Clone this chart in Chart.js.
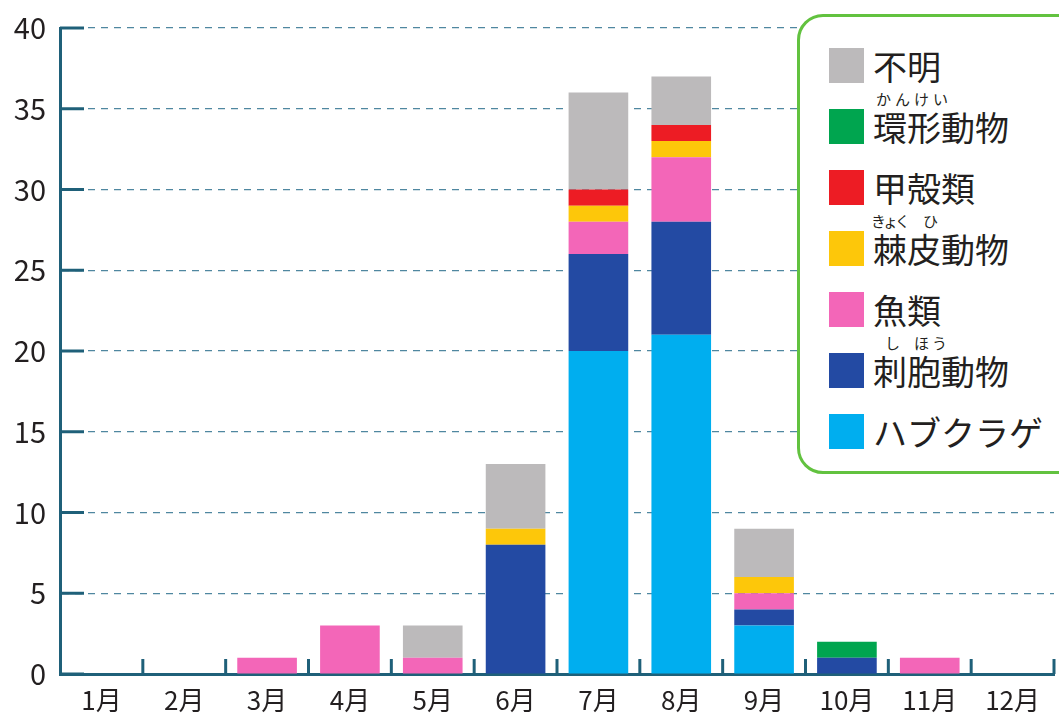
<!DOCTYPE html>
<html>
<head>
<meta charset="utf-8">
<script src="https://cdn.jsdelivr.net/npm/chart.js@4.4.1/dist/chart.umd.min.js"></script>
<style>
  body { margin: 0; background: #fff; }
  #wrap { position: relative; width: 1059px; height: 717px; overflow: hidden; font-family: "Noto Sans CJK JP", sans-serif; }
  #legend {
    position: absolute; left: 797px; top: 14px; width: 300px; height: 460px;
    border: 3px solid #62c23f; border-radius: 26px; background: #fff; box-sizing: border-box;
  }
  .row { position: absolute; left: 29px; height: 35px; display: flex; align-items: center; }
  .sw { width: 35px; height: 35px; margin-right: 9px; }
  .lab { position: relative; font-size: 34px; color: #231f20; line-height: 35px; white-space: nowrap; }
  .rb { position: absolute; top: -18px; font-size: 15px; line-height: 15px; color: #231f20; white-space: nowrap; }
</style>
</head>
<body>
<div id="wrap">
  <canvas id="chart" width="1059" height="717"></canvas>
  <div id="legend"></div>
</div>
<script>
const months = ["1月", "2月", "3月", "4月", "5月", "6月", "7月", "8月", "9月", "10月", "11月", "12月"];

const habukurage = [0, 0, 0, 0, 0, 0, 20, 21, 3, 0, 0, 0];
const shihou = [0, 0, 0, 0, 0, 8, 6, 7, 1, 1, 0, 0];
const gyorui = [0, 0, 1, 3, 1, 0, 2, 4, 1, 0, 1, 0];
const kyokuhi = [0, 0, 0, 0, 0, 1, 1, 1, 1, 0, 0, 0];
const koukaku = [0, 0, 0, 0, 0, 0, 1, 1, 0, 0, 0, 0];
const kankei = [0, 0, 0, 0, 0, 0, 0, 0, 0, 1, 0, 0];
const fumei = [0, 0, 0, 0, 2, 4, 6, 3, 3, 0, 0, 0];

const yTicks = [0, 5, 10, 15, 20, 25, 30, 35, 40];

const axisColor = "#1f6079";

// bottom to top; ruby = [reading, left offset, letter spacing]
const series = [
  { label: "ハブクラゲ", data: habukurage, color: "#00aeef" },
  { label: "刺胞動物", data: shihou, color: "#234aa3", ruby: [["し", 12, 0], ["ほう", 41, 3]] },
  { label: "魚類", data: gyorui, color: "#f366b8" },
  { label: "棘皮動物", data: kyokuhi, color: "#fdc70a", ruby: [["きょく", -2, -3], ["ひ", 50, 0]] },
  { label: "甲殻類", data: koukaku, color: "#ed1c24" },
  { label: "環形動物", data: kankei, color: "#00a54f", ruby: [["かんけい", 3, 4]] },
  { label: "不明", data: fumei, color: "#bcbabb" },
];

// axis ticks: solid inward marks on y, upward marks on x category boundaries
const axisMarks = {
  id: "axisMarks",
  afterDraw(chart) {
    const { ctx, chartArea, scales } = chart;
    ctx.save();
    ctx.strokeStyle = axisColor;
    ctx.lineWidth = 3;
    yTicks.forEach(v => {
      const y = scales.y.getPixelForValue(v);
      ctx.beginPath();
      ctx.moveTo(chartArea.left, y);
      ctx.lineTo(chartArea.left + 24, y);
      ctx.stroke();
    });
    const half = (scales.x.getPixelForValue(1) - scales.x.getPixelForValue(0)) / 2;
    for (let i = 0; i < months.length; i++) {
      const x = scales.x.getPixelForValue(i) + half;
      ctx.beginPath();
      ctx.moveTo(x, chartArea.bottom);
      ctx.lineTo(x, chartArea.bottom - 15);
      ctx.stroke();
    }
    ctx.restore();
  },
};

new Chart(document.getElementById("chart"), {
  type: "bar",
  data: {
    labels: months,
    datasets: series.map(s => ({
      label: s.label,
      data: s.data,
      backgroundColor: s.color,
      borderWidth: 0,
      barPercentage: 0.72,
      categoryPercentage: 1,
    })),
  },
  options: {
    responsive: false,
    animation: false,
    layout: { padding: { top: 0, right: 5, left: 0, bottom: 0 } },
    plugins: { legend: { display: false }, tooltip: { enabled: false } },
    scales: {
      x: {
        stacked: true,
        offset: true,
        grid: { display: false },
        border: { color: axisColor, width: 3 },
        ticks: {
          color: "#231f20",
          font: { family: "Noto Sans CJK JP", size: 26 },
          padding: 3,
        },
        afterFit(scale) { scale.height = 43; },
      },
      y: {
        stacked: true,
        min: 0,
        max: 40,
        afterBuildTicks(scale) { scale.ticks = yTicks.map(v => ({ value: v })); },
        grid: {
          color: "#4f87a0",
          lineWidth: 1.2,
          drawTicks: false,
        },
        border: { color: axisColor, width: 3, dash: [7, 6] },
        ticks: {
          color: "#231f20",
          font: { family: "Noto Sans CJK JP", size: 29 },
          padding: 14,
        },
        afterFit(scale) {
          scale.width = 60;
          scale.paddingTop = 28;
          scale.paddingBottom = 0;
        },
      },
    },
  },
  plugins: [axisMarks],
});

// legend in the order shown (top to bottom)
const legend = document.getElementById("legend");
series.slice().reverse().forEach((s, i) => {
  const row = document.createElement("div");
  row.className = "row";
  row.style.top = (31 + i * 61) + "px";
  const sw = document.createElement("div");
  sw.className = "sw";
  sw.style.background = s.color;
  const lab = document.createElement("div");
  lab.className = "lab";
  lab.textContent = s.label;
  (s.ruby || []).forEach(([t, dx, sp]) => {
    const r = document.createElement("span");
    r.className = "rb";
    r.style.left = dx + "px";
    r.style.letterSpacing = sp + "px";
    r.textContent = t;
    lab.appendChild(r);
  });
  row.appendChild(sw);
  row.appendChild(lab);
  legend.appendChild(row);
});
</script>
</body>
</html>
